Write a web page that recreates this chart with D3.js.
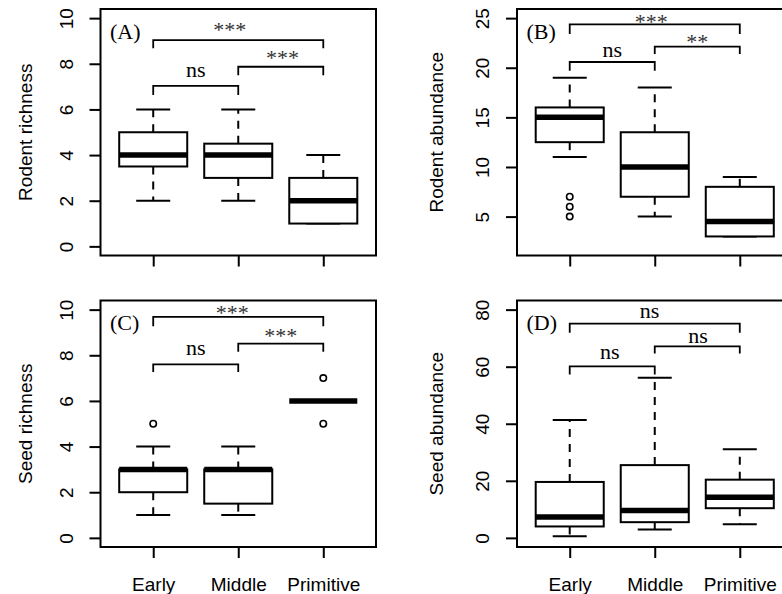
<!DOCTYPE html>
<html>
<head>
<meta charset="utf-8">
<script src="https://cdn.jsdelivr.net/npm/d3@7"></script>
<style>
  body { margin: 0; background: #fff; }
  svg { display: block; }
</style>
</head>
<body>
<script>
// groups
var groups = ["Early", "Middle", "Primitive"];

// box stats per panel: [lower whisker, Q1, median, Q3, upper whisker]
var rodentRichness = [[2, 3.5, 4, 5, 6], [2, 3, 4, 4.5, 6], [1, 1, 2, 3, 4]];
var rodentAbundance = [[11, 12.5, 15, 16, 19], [5, 7, 10, 13.5, 18], [3, 3, 4.5, 8, 9]];
var seedRichness = [[1, 2, 3, 3, 4], [1, 1.5, 3, 3, 4], [6, 6, 6, 6, 6]];
var seedAbundance = [[0.6, 4.0, 7.3, 19.6, 41.3], [2.9, 5.5, 9.6, 25.5, 56.1], [4.8, 10.4, 14.2, 20.4, 31.1]];

// outliers per group
var rodentRichnessOut = [[], [], []];
var rodentAbundanceOut = [[5, 6, 7], [], []];
var seedRichnessOut = [[5], [], [5, 7]];
var seedAbundanceOut = [[], [], []];

// y limits and ticks
var rodentRichnessLim = [0, 10], rodentRichnessTicks = [0, 2, 4, 6, 8, 10];
var rodentAbundanceLim = [2, 25], rodentAbundanceTicks = [5, 10, 15, 20, 25];
var seedRichnessLim = [0, 10], seedRichnessTicks = [0, 2, 4, 6, 8, 10];
var seedAbundanceLim = [0, 80], seedAbundanceTicks = [0, 20, 40, 60, 80];

// significance brackets: [from, to, line y, end y, label, label x, label y]
var rodentRichnessSig = [
  [1, 3, 9.04, 8.68, "***", 1.9, 9.17],
  [2, 3, 7.87, 7.5, "***", 2.52, 7.93],
  [1, 2, 7.03, 6.63, "ns", 1.5, 7.44]
];
var rodentAbundanceSig = [
  [1, 3, 24.38, 23.4, "***", 1.96, 23.94],
  [2, 3, 22.12, 21.38, "**", 2.5, 21.93],
  [1, 2, 20.58, 19.7, "ns", 1.5, 21.11]
];
var seedRichnessSig = [
  [1, 3, 9.68, 9.27, "***", 1.93, 9.53],
  [2, 3, 8.51, 8.15, "***", 2.5, 8.55],
  [1, 2, 7.6, 7.27, "ns", 1.5, 8.0]
];
var seedAbundanceSig = [
  [1, 3, 75.07, 71.9, "ns", 1.94, 77.2],
  [2, 3, 67.15, 64.6, "ns", 2.51, 68.4],
  [1, 2, 60.1, 57.3, "ns", 1.47, 62.6]
];

var panelTags = ["(A)", "(B)", "(C)", "(D)"];
var yTitles = ["Rodent richness", "Rodent abundance", "Seed richness", "Seed abundance"];

var panels = [
  {tag: panelTags[0], title: yTitles[0], stats: rodentRichness, out: rodentRichnessOut, lim: rodentRichnessLim, ticks: rodentRichnessTicks, sig: rodentRichnessSig, left: 100.5, top: 9, labOff: 69, xLabels: false},
  {tag: panelTags[1], title: yTitles[1], stats: rodentAbundance, out: rodentAbundanceOut, lim: rodentAbundanceLim, ticks: rodentAbundanceTicks, sig: rodentAbundanceSig, left: 517, top: 9, labOff: 74, xLabels: false},
  {tag: panelTags[2], title: yTitles[2], stats: seedRichness, out: seedRichnessOut, lim: seedRichnessLim, ticks: seedRichnessTicks, sig: seedRichnessSig, left: 100.5, top: 300.5, labOff: 69, xLabels: true},
  {tag: panelTags[3], title: yTitles[3], stats: seedAbundance, out: seedAbundanceOut, lim: seedAbundanceLim, ticks: seedAbundanceTicks, sig: seedAbundanceSig, left: 517, top: 300.5, labOff: 74, xLabels: true}
];

var W = 275.5, H = 246.5;
var sans = "'Liberation Sans', Arial, sans-serif",
    serif = "'Liberation Serif', 'Times New Roman', serif";

var svg = d3.select("body").append("svg")
  .attr("width", 782)
  .attr("height", 594);

svg.append("rect").attr("width", 782).attr("height", 594).attr("fill", "#fff");

panels.forEach(function(p){
  // R style 4% range extension
  var pad = (p.lim[1] - p.lim[0]) * 0.04;
  var x = d3.scaleLinear().domain([0.38, 3.62]).range([0, W]);
  var y = d3.scaleLinear().domain([p.lim[0] - pad, p.lim[1] + pad]).range([H, 0]);

  var g = svg.append("g").attr("transform", "translate(" + p.left + "," + p.top + ")");

  // y axis
  var ya = g.append("g")
    .call(d3.axisLeft(y).tickValues(p.ticks).tickSize(11).tickSizeOuter(0));
  ya.select(".domain").remove();
  ya.selectAll("line").attr("stroke", "#000").attr("stroke-width", 2);
  ya.selectAll("text")
    .attr("x", null).attr("dy", null)
    .attr("text-anchor", "middle")
    .attr("transform", "translate(-28,0) rotate(-90)")
    .style("font-family", sans).style("font-size", "19px").attr("fill", "#000");

  // x axis
  var xa = g.append("g")
    .attr("transform", "translate(0," + H + ")")
    .call(d3.axisBottom(x).tickValues([1, 2, 3]).tickSize(11).tickSizeOuter(0)
      .tickFormat(function(d){ return p.xLabels ? groups[d - 1] : ""; }));
  xa.select(".domain").remove();
  xa.selectAll("line").attr("stroke", "#000").attr("stroke-width", 2);
  xa.selectAll("text")
    .attr("y", 44).attr("dy", null)
    .style("font-family", sans).style("font-size", "19px").attr("fill", "#000");

  // y title
  g.append("text")
    .attr("transform", "translate(" + (-p.labOff) + "," + (H / 2) + ") rotate(-90)")
    .attr("text-anchor", "middle")
    .style("font-family", sans).style("font-size", "19px")
    .text(p.title);

  // boxes
  var box = g.selectAll(".box").data(p.stats).enter().append("g").attr("class", "box");

  // whiskers (dashed, from box out)
  box.append("line")
    .attr("x1", function(d, i){ return x(i + 1); }).attr("x2", function(d, i){ return x(i + 1); })
    .attr("y1", function(d){ return y(d[1]); }).attr("y2", function(d){ return y(d[0]); });
  box.append("line")
    .attr("x1", function(d, i){ return x(i + 1); }).attr("x2", function(d, i){ return x(i + 1); })
    .attr("y1", function(d){ return y(d[3]); }).attr("y2", function(d){ return y(d[4]); });
  box.selectAll("line").attr("stroke", "#000").attr("stroke-width", 2).attr("stroke-dasharray", "8,7");

  // staples
  [0, 4].forEach(function(k){
    box.append("line")
      .attr("x1", function(d, i){ return x(i + 1 - 0.2); }).attr("x2", function(d, i){ return x(i + 1 + 0.2); })
      .attr("y1", function(d){ return y(d[k]); }).attr("y2", function(d){ return y(d[k]); })
      .attr("stroke", "#000").attr("stroke-width", 2);
  });

  box.append("rect")
    .attr("x", function(d, i){ return x(i + 1 - 0.4); })
    .attr("width", x(1.4) - x(0.6))
    .attr("y", function(d){ return y(d[3]); })
    .attr("height", function(d){ return y(d[1]) - y(d[3]); })
    .attr("fill", "#fff").attr("stroke", "#000").attr("stroke-width", 2);

  box.append("line")
    .attr("x1", function(d, i){ return x(i + 1 - 0.4); }).attr("x2", function(d, i){ return x(i + 1 + 0.4); })
    .attr("y1", function(d){ return y(d[2]); }).attr("y2", function(d){ return y(d[2]); })
    .attr("stroke", "#000").attr("stroke-width", 5.5);

  // outliers
  p.out.forEach(function(vals, i){
    g.selectAll(null).data(vals).enter().append("circle")
      .attr("cx", x(i + 1)).attr("cy", function(d){ return y(d); })
      .attr("r", 3.2).attr("fill", "none").attr("stroke", "#000").attr("stroke-width", 1.6);
  });

  // significance brackets
  g.selectAll(".sig").data(p.sig).enter().append("path")
    .attr("class", "sig")
    .attr("d", function(d){
      return "M" + x(d[0]) + "," + y(d[3]) + "V" + y(d[2]) + "H" + x(d[1]) + "V" + y(d[3]);
    })
    .attr("fill", "none").attr("stroke", "#000").attr("stroke-width", 1.8);

  g.selectAll(".siglab").data(p.sig).enter().append("text")
    .attr("class", "siglab")
    .attr("x", function(d){ return x(d[5]); })
    .attr("y", function(d){ return y(d[6]); })
    .attr("text-anchor", "middle")
    .style("font-family", serif).style("font-size", "22px")
    .attr("fill", function(d){ return d[4] === "ns" ? "#000" : "#333"; })
    .text(function(d){ return d[4]; });

  // panel tag
  g.append("text")
    .attr("x", 9.5).attr("y", 29.5)
    .style("font-family", serif).style("font-size", "22px")
    .text(p.tag);

  // frame
  g.append("rect")
    .attr("width", W).attr("height", H)
    .attr("fill", "none").attr("stroke", "#000").attr("stroke-width", 2);
});
</script>
</body>
</html>
